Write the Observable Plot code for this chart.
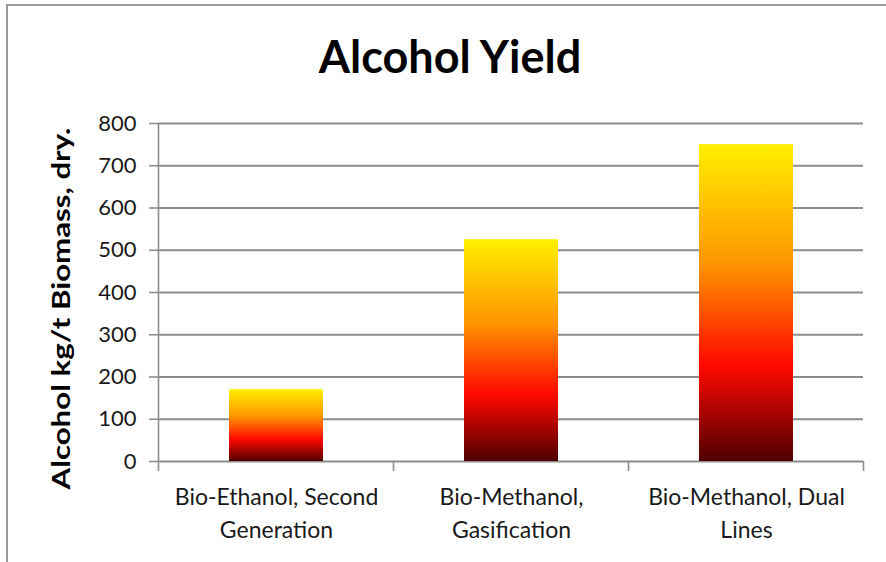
<!DOCTYPE html>
<html><head><meta charset="utf-8">
<script src="https://cdn.jsdelivr.net/npm/d3@7"></script>
<script src="https://cdn.jsdelivr.net/npm/@observablehq/plot@0.6"></script>
<style>
body{margin:0;background:#fff;}
#wrap{position:relative;width:886px;height:562px;overflow:hidden;font-family:Lato,sans-serif;background:#fff;}
#border{position:absolute;left:6px;top:4px;right:-10px;bottom:-10px;border-left:2px solid #9a9a9a;border-top:2px solid #9a9a9a;}
#title{position:absolute;left:0;width:900px;top:32px;text-align:center;font:bold 45px Lato,sans-serif;color:#000;line-height:1.1;}
#chart{position:absolute;left:0;top:0;}
</style></head><body>
<div id="wrap"><div id="border"></div><div id="title"></div><div id="chart"></div></div>
<script>
const titleText = "Alcohol Yield";
const yLabel = "Alcohol kg/t Biomass, dry.";
const categories = ["Bio-Ethanol, Second Generation", "Bio-Methanol, Gasification", "Bio-Methanol, Dual Lines"];
const tickLabels = ["Bio-Ethanol, Second\nGeneration", "Bio-Methanol,\nGasification", "Bio-Methanol, Dual\nLines"];
const values = [170, 525, 750];
const yTicks = [0, 100, 200, 300, 400, 500, 600, 700, 800];

const gradientStops = [
  [0, "#4e0000"], [0.3, "#ff0800"], [0.62, "#ff9400"], [1, "#fff000"]
];
const gridColor = "#8c8c8c";

document.getElementById("title").textContent = titleText;
const data = categories.map((c, i) => ({category: c, value: values[i]}));

const chart = Plot.plot({
  width: 886, height: 562,
  marginTop: 123, marginBottom: 101, marginLeft: 158, marginRight: 23,
  style: {background: "transparent", fontFamily: "Lato, sans-serif", overflow: "visible"},
  x: {domain: categories, paddingInner: 0.6, paddingOuter: 0.3, label: null},
  y: {domain: [0, 800], ticks: yTicks, label: null},
  marks: [
    () => {
      const defs = d3.create("svg:defs");
      const g = defs.append("linearGradient").attr("id", "barGrad")
        .attr("x1", 0).attr("y1", 1).attr("x2", 0).attr("y2", 0);
      gradientStops.forEach(([o, c]) => g.append("stop").attr("offset", o).attr("stop-color", c));
      return defs.node();
    },
    Plot.gridY(yTicks, {stroke: gridColor, strokeOpacity: 1, strokeWidth: 1.8}),
    Plot.barY(data, {x: "category", y: "value", fill: "url(#barGrad)"}),
    Plot.axisY(yTicks, {tickSize: 9, tickPadding: 13, fontSize: 22, stroke: gridColor, fill: "#1a1a1a", strokeWidth: 1.6, label: null}),
    Plot.axisX({tickSize: 0, tickPadding: 21, fontSize: 23, lineHeight: 1.4, fill: "#1a1a1a",
      tickFormat: d => tickLabels[categories.indexOf(d)], label: null}),
    Plot.text([yLabel], {text: d => d, frameAnchor: "left", textAnchor: "middle", rotate: -90, dx: -97, dy: 16,
      fontSize: 25, fontWeight: "bold", fill: "#000", className: "ylab"})
  ]
});

// stretch the y label to the reference's length
d3.select(chart).selectAll(".ylab text").attr("textLength", 362).attr("lengthAdjust", "spacingAndGlyphs");

// category boundary ticks and left axis line, derived from the scales
const xs = chart.scale("x"), ys = chart.scale("y");
const y0 = ys.apply(0), yTop = ys.apply(800);
const off = (xs.step - xs.bandwidth) / 2;
const edges = categories.map(c => xs.apply(c) - off).concat([xs.apply(categories[categories.length - 1]) + xs.bandwidth + off]);
const sel = d3.select(chart);
const gg = sel.append("g").attr("stroke", gridColor).attr("stroke-width", 1.6);
gg.append("line").attr("x1", edges[0]).attr("x2", edges[0]).attr("y1", yTop).attr("y2", y0);
edges.forEach(e => gg.append("line").attr("x1", e).attr("x2", e).attr("y1", y0).attr("y2", y0 + 10));

document.getElementById("chart").appendChild(chart);
</script>
</body></html>
